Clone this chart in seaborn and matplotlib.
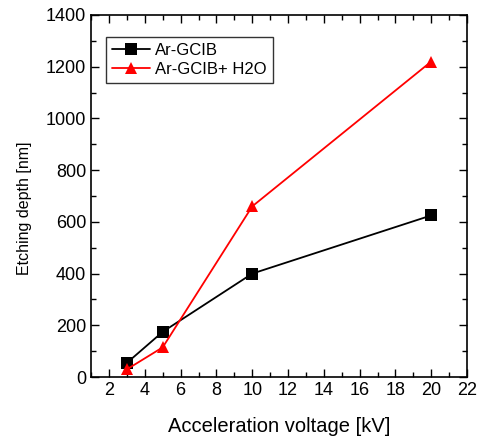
import matplotlib
matplotlib.use("Agg")
import matplotlib.pyplot as plt
import matplotlib.ticker as ticker
import pandas as pd
import seaborn as sns

sns.set_style("ticks")
plt.rcParams["font.family"] = ["Liberation Sans", "DejaVu Sans"]
plt.rcParams["text.color"] = "black"
plt.rcParams["axes.labelcolor"] = "black"
plt.rcParams["xtick.color"] = "black"
plt.rcParams["ytick.color"] = "black"

voltage = [3, 5, 10, 20]
depth_ar = [55, 175, 400, 625]
depth_ar_h2o = [30, 115, 660, 1220]
series_names = ["Ar-GCIB", "Ar-GCIB+ H2O"]

df = pd.concat([
    pd.DataFrame({"Voltage": voltage, "Depth": depth_ar, "Sample": series_names[0]}),
    pd.DataFrame({"Voltage": voltage, "Depth": depth_ar_h2o, "Sample": series_names[1]}),
])

fig = plt.figure(figsize=(4.82, 4.40), dpi=100)
ax = fig.add_axes([0.189, 0.143, 0.780, 0.823])

sns.lineplot(data=df, x="Voltage", y="Depth", hue="Sample", style="Sample",
             palette=["black", "red"], markers=["s", "^"], dashes=False,
             markersize=9, markeredgewidth=0, linewidth=1.3, ax=ax)

ax.set_xlim(1, 22)
ax.set_ylim(0, 1400)
ax.xaxis.set_major_locator(ticker.MultipleLocator(2))
ax.xaxis.set_minor_locator(ticker.MultipleLocator(1))
ax.yaxis.set_major_locator(ticker.MultipleLocator(200))
ax.yaxis.set_minor_locator(ticker.MultipleLocator(100))
ax.tick_params(which="both", direction="in", top=True, right=True, labelsize=13, color="black")
ax.tick_params(which="major", length=6, width=1)
ax.tick_params(which="minor", length=3.5, width=1)
for s in ax.spines.values():
    s.set_linewidth(1.2)
    s.set_color("black")

ax.set_xlabel("Acceleration voltage [kV]", fontsize=14.5, labelpad=13)
ax.set_ylabel("Etching depth [nm]", fontsize=11.5)
ax.yaxis.set_label_coords(-0.157, 0.467)

leg = ax.legend(loc="upper left", bbox_to_anchor=(0.04, 0.94), borderaxespad=0,
                fontsize=12, frameon=True, fancybox=False, edgecolor="black",
                handlelength=2.3, borderpad=0.35, labelspacing=0.25, handletextpad=0.3)
leg.get_frame().set_linewidth(1.0)

fig.savefig("out.png", dpi=100)
